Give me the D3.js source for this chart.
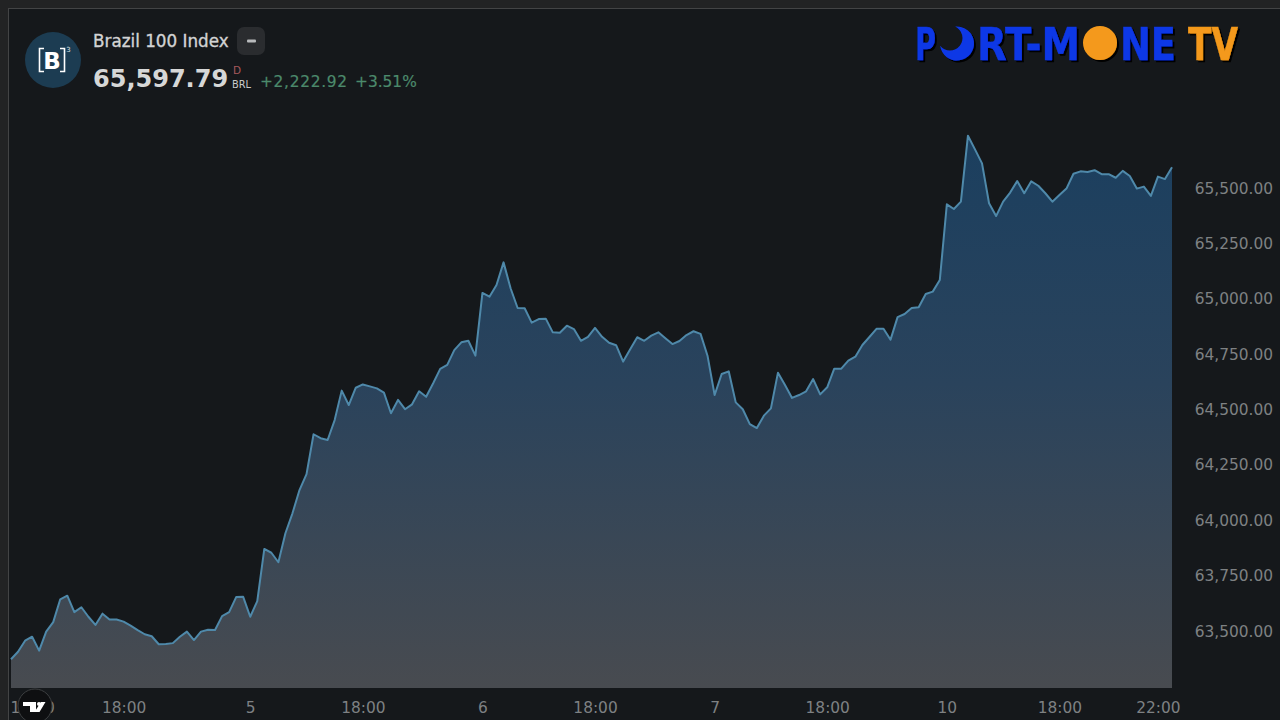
<!DOCTYPE html>
<html><head><meta charset="utf-8">
<script src="https://cdn.jsdelivr.net/npm/d3@7"></script>
<style>
html,body{margin:0;padding:0;background:#222324;overflow:hidden}
svg{display:block}
text{font-family:"DejaVu Sans",sans-serif}
</style></head><body><svg id="c" width="1280" height="720"></svg>
<script>
const title = "Brazil 100 Index";
const lastPrice = "65,597.79";
const changeAbs = "+2,222.92";
const changePct = "+3.51%";
const tickValues = [63500,63750,64000,64250,64500,64750,65000,65250,65500];
const timeTickIndex = [3,16,34,50,67,83,100,116,133,149,163];
const timeTickLabels = ["10:00","18:00","5","18:00","6","18:00","7","18:00","10","18:00","22:00"];
const prices = [
63370,63404,63454,63472,63409,63495,63538,63641,63657,63583,
63605,63562,63525,63576,63550,63550,63540,63522,63502,63483,
63474,63438,63439,63443,63472,63495,63457,63495,63503,63502,
63565,63583,63651,63652,63562,63633,63868,63851,63808,63939,
64029,64134,64206,64386,64368,64360,64450,64583,64518,64596,
64611,64602,64593,64574,64481,64541,64499,64521,64580,64555,
64616,64681,64699,64766,64801,64808,64741,65024,65007,65060,
65162,65045,64956,64955,64890,64906,64908,64846,64844,64876,
64861,64808,64826,64866,64826,64799,64788,64714,64770,64824,
64808,64831,64846,64819,64793,64807,64834,64851,64839,64739,
64563,64658,64670,64530,64499,64432,64414,64470,64503,64664,
64608,64550,64563,64580,64635,64566,64598,64682,64682,64718,
64736,64789,64825,64862,64862,64813,64915,64929,64956,64959,
65019,65030,65082,65424,65403,65436,65734,65672,65609,65429,
65371,65436,65477,65529,65474,65528,65508,65474,65436,65466,
65495,65562,65573,65570,65578,65560,65560,65544,65575,65552,
65495,65504,65462,65549,65538,65591];

const svg = d3.select("#c");
const P = {l:9,t:9,r:1172,b:688};
const x0 = 11;
const x = d3.scaleLinear().domain([0,prices.length-1]).range([x0,P.r]);
const y = d3.scaleLinear().domain([63500,65500]).range([630.5,187.5]);

// frame and plot background
svg.append("rect").attr("width",1280).attr("height",720).attr("fill","#222324");
svg.append("rect").attr("x",8.5).attr("y",8.5).attr("width",1272).attr("height",712)
   .attr("fill","#15181b").attr("stroke","#434445");

const defs = svg.append("defs");
const g = defs.append("linearGradient").attr("id","areaFill")
  .attr("gradientUnits","userSpaceOnUse").attr("x1",0).attr("x2",0).attr("y1",135).attr("y2",688);
g.append("stop").attr("offset",0).attr("stop-color","#1b3f5f");
g.append("stop").attr("offset",0.45).attr("stop-color","#2a435c");
g.append("stop").attr("offset",1).attr("stop-color","#484b50");
const sh = defs.append("filter").attr("id","sh").attr("x","-10%").attr("y","-10%").attr("width","130%").attr("height","130%");
sh.append("feDropShadow").attr("dx",2).attr("dy",2).attr("stdDeviation",0.4).attr("flood-color","#000");

// area and line
const area = d3.area().x((d,i)=>x(i)).y0(P.b).y1(d=>y(d));
svg.append("path").datum(prices).attr("d",area).attr("fill","url(#areaFill)");
const line = d3.line().x((d,i)=>x(i)).y(d=>y(d));
svg.append("path").datum(prices).attr("d",line).attr("fill","none").attr("stroke","#4f89aa").attr("stroke-width",2).attr("stroke-linejoin","round");

// axes
const yAxis = d3.axisRight(y).tickValues(tickValues).tickSize(0).tickPadding(0).tickFormat(d3.format(",.2f"));
const ya = svg.append("g").attr("transform","translate(1273,0.6)").call(yAxis);
ya.select(".domain").remove();
ya.selectAll("text").attr("text-anchor","end").attr("x",0).attr("fill","#7e8183").attr("font-size","15.4px").attr("font-family","'DejaVu Sans'");
const xAxis = d3.axisBottom(x).tickValues(timeTickIndex).tickSize(0).tickPadding(0).tickFormat((d,i)=>timeTickLabels[i]);
const xa = svg.append("g").attr("transform","translate(0,702.5)").call(xAxis);
xa.select(".domain").remove();
xa.selectAll("text").attr("fill","#7e8183").attr("font-size","15.4px").attr("font-family","'DejaVu Sans'");

// header
svg.append("circle").attr("cx",53).attr("cy",60).attr("r",28).attr("fill","#1c3c52");
svg.append("text").attr("x",52).attr("y",69).attr("text-anchor","middle").attr("fill","#fff").attr("font-size",23).attr("font-weight","bold").text("B");
svg.append("path").attr("d","M44 48.5h-4.5v23H44M60 48.5h4.5v23H60").attr("fill","none").attr("stroke","#fff").attr("stroke-width",1.6);
svg.append("text").attr("x",68.5).attr("y",52).attr("text-anchor","middle").attr("fill","#dfe3e6").attr("font-size",7).text("3");

svg.append("text").attr("x",93).attr("y",46.5).attr("fill","#d2d3d4").attr("font-size",16.8).attr("stroke","#d2d3d4").attr("stroke-width",0.35).text(title);
svg.append("rect").attr("x",237).attr("y",27).attr("width",28).attr("height",28).attr("rx",7).attr("fill","#2a2c2f");
svg.append("rect").attr("x",247).attr("y",39.5).attr("width",9).attr("height",3).attr("rx",1).attr("fill","#b8babc");
svg.append("text").attr("x",93).attr("y",87).attr("fill","#d6d7d7").attr("font-size",24).attr("font-weight","bold").text(lastPrice);
svg.append("text").attr("x",233).attr("y",73.5).attr("fill","#a8595b").attr("font-size",10.5).text("D");
svg.append("text").attr("x",232).attr("y",88).attr("fill","#c9cacb").attr("font-size",9.8).text("BRL");
svg.append("text").attr("x",260).attr("y",87).attr("fill","#4c8a6c").attr("font-size",15.4).attr("letter-spacing",0.7).attr("stroke","#4c8a6c").attr("stroke-width",0.2).text(changeAbs);
svg.append("text").attr("x",355).attr("y",87).attr("fill","#4c8a6c").attr("font-size",15.4).attr("stroke","#4c8a6c").attr("stroke-width",0.2).text(changePct);

// watermark
const logo = svg.append("g").attr("filter","url(#sh)").attr("font-family","'Liberation Sans'").attr("font-weight","bold").attr("font-size",45);
const glyphs = [["P",915,21,"#0f37e6"],["RT-M",977,103,"#0f37e6"],["NE",1120,56,"#0f37e6"],["TV",1188,50,"#f4991a"]];
glyphs.forEach(d=>logo.append("text").attr("x",d[1]).attr("y",60).attr("fill",d[3]).attr("stroke",d[3]).attr("stroke-width",0.4)
  .attr("textLength",d[2]).attr("lengthAdjust","spacingAndGlyphs").text(d[0]));
logo.append("path").attr("d","M955.14 26.6A17 17 0 1 1 940.14 45.7A12.5 12.5 0 1 0 955.14 26.6Z").attr("fill","#0f37e6");
logo.append("circle").attr("cx",1100).attr("cy",43).attr("r",17).attr("fill","#f4991a");

// corner badge
svg.append("circle").attr("cx",35).attr("cy",706).attr("r",17).attr("fill","#0e0f11").attr("stroke","#3c3e40");
svg.append("path").attr("d","M23 702h13v10h-6v-6h-7zM37 704a2 2 0 1 1 4 0a2 2 0 1 1-4 0zM41 702h4.5l-6 10h-5z").attr("fill","#fff");
</script></body></html>
